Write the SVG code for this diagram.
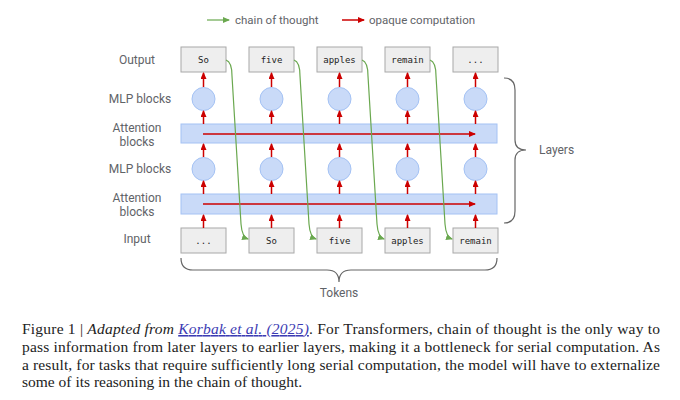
<svg xmlns="http://www.w3.org/2000/svg" width="680" height="400" viewBox="0 0 680 400">
<style>
.lbl{font-family:Roboto,"Liberation Sans",sans-serif;font-size:12px;fill:#5f6368}
.leg{font-family:Roboto,"Liberation Sans",sans-serif;font-size:11.5px;fill:#5f6368}
.tok{font-family:"DejaVu Sans Mono","Liberation Mono",monospace;font-size:9px;fill:#222;text-anchor:middle}
.box{fill:#eeeeee;stroke:#a8a8a8;stroke-width:1}
.mlp{fill:#c9daf8;stroke:#a4c2f4;stroke-width:1}
.bar{fill:#c9daf8;stroke:#a4c2f4;stroke-width:1}
.red{stroke:#cc0000;stroke-width:1.5;fill:none;marker-end:url(#rh)}
.grn{stroke:#6aa84f;stroke-width:1.2;fill:none;marker-end:url(#gh)}
.brace{stroke:#666;stroke-width:1.2;fill:none}
.cap{font-family:"Liberation Serif",serif;font-size:15.5px;fill:#222}
</style>
<defs>
<marker id="rh" markerWidth="8" markerHeight="8" refX="6" refY="3" orient="auto" markerUnits="userSpaceOnUse"><path d="M0,0 L7,3 L0,6 Z" fill="#cc0000"/></marker>
<marker id="gh" markerWidth="8" markerHeight="8" refX="6" refY="3" orient="auto" markerUnits="userSpaceOnUse"><path d="M0,0 L7,3 L0,6 Z" fill="#6aa84f"/></marker>
</defs>
<rect width="680" height="400" fill="#ffffff"/>

<g id="legend">
<line x1="207" y1="20" x2="229" y2="20" class="grn"/>
<text x="235" y="24" class="leg">chain of thought</text>
<line x1="342" y1="20" x2="364" y2="20" class="red"/>
<text x="369" y="24" class="leg">opaque computation</text>
</g>

<g id="row-labels" class="lbl" text-anchor="middle">
<text x="137" y="64">Output</text>
<text x="140" y="103">MLP blocks</text>
<text x="137" y="132">Attention</text>
<text x="137" y="146">blocks</text>
<text x="140" y="173">MLP blocks</text>
<text x="137" y="202">Attention</text>
<text x="137" y="216">blocks</text>
<text x="137" y="243">Input</text>
</g>

<g id="attention1"><rect class="bar" x="181" y="124" width="316" height="19"/></g>
<g id="attention2"><rect class="bar" x="181" y="194" width="316" height="20"/></g>

<g id="output-tokens">
<rect class="box" x="181" y="47" width="45" height="25"/><text class="tok" x="203.5" y="63">So</text>
<rect class="box" x="249" y="47" width="45" height="25"/><text class="tok" x="271.5" y="63">five</text>
<rect class="box" x="317" y="47" width="45" height="25"/><text class="tok" x="339.5" y="63">apples</text>
<rect class="box" x="385" y="47" width="45" height="25"/><text class="tok" x="407.5" y="63">remain</text>
<rect class="box" x="453" y="47" width="45" height="25"/><text class="tok" x="475.5" y="63">...</text>
</g>

<g id="input-tokens">
<rect class="box" x="181" y="228" width="45" height="25"/><text class="tok" x="203.5" y="244">...</text>
<rect class="box" x="249" y="228" width="45" height="25"/><text class="tok" x="271.5" y="244">So</text>
<rect class="box" x="317" y="228" width="45" height="25"/><text class="tok" x="339.5" y="244">five</text>
<rect class="box" x="385" y="228" width="45" height="25"/><text class="tok" x="407.5" y="244">apples</text>
<rect class="box" x="453" y="228" width="45" height="25"/><text class="tok" x="475.5" y="244">remain</text>
</g>

<g id="mlp1">
<circle class="mlp" cx="203.5" cy="99" r="11.5"/><circle class="mlp" cx="271.5" cy="99" r="11.5"/><circle class="mlp" cx="339.5" cy="99" r="11.5"/><circle class="mlp" cx="407.5" cy="99" r="11.5"/><circle class="mlp" cx="475.5" cy="99" r="11.5"/>
</g>
<g id="mlp2">
<circle class="mlp" cx="203.5" cy="169" r="11.5"/><circle class="mlp" cx="271.5" cy="169" r="11.5"/><circle class="mlp" cx="339.5" cy="169" r="11.5"/><circle class="mlp" cx="407.5" cy="169" r="11.5"/><circle class="mlp" cx="475.5" cy="169" r="11.5"/>
</g>

<g id="connectors">
<g id="vertical-arrows">
<path class="red" d="M203.5,228V215"/><path class="red" d="M203.5,194V181"/><path class="red" d="M203.5,157V144"/><path class="red" d="M203.5,124V111"/><path class="red" d="M203.5,87V73"/>
<path class="red" d="M271.5,228V215"/><path class="red" d="M271.5,194V181"/><path class="red" d="M271.5,157V144"/><path class="red" d="M271.5,124V111"/><path class="red" d="M271.5,87V73"/>
<path class="red" d="M339.5,228V215"/><path class="red" d="M339.5,194V181"/><path class="red" d="M339.5,157V144"/><path class="red" d="M339.5,124V111"/><path class="red" d="M339.5,87V73"/>
<path class="red" d="M407.5,228V215"/><path class="red" d="M407.5,194V181"/><path class="red" d="M407.5,157V144"/><path class="red" d="M407.5,124V111"/><path class="red" d="M407.5,87V73"/>
<path class="red" d="M475.5,228V215"/><path class="red" d="M475.5,194V181"/><path class="red" d="M475.5,157V144"/><path class="red" d="M475.5,124V111"/><path class="red" d="M475.5,87V73"/>
</g>
<line class="red" x1="203" y1="134" x2="475" y2="134"/>
<line class="red" x1="203" y1="204" x2="475" y2="204"/>
<path class="grn" d="M226,60 Q232,62 232,76 L241,224 Q242,237 248,239"/>
<path class="grn" d="M294,60 Q300,62 300,76 L309,224 Q310,237 316,239"/>
<path class="grn" d="M362,60 Q368,62 368,76 L377,224 Q378,237 384,239"/>
<path class="grn" d="M430,60 Q436,62 436,76 L445,224 Q446,237 452,239"/>
</g>

<g id="layers-brace">
<path class="brace" d="M504,78 Q515,78 515,90 L515,140 Q515,150 526,150 Q515,150 515,160 L515,211 Q515,223 504,223"/>
<text class="lbl" x="539" y="154">Layers</text>
</g>
<g id="tokens-brace">
<path class="brace" d="M181,258 Q181,270 193,270 L327,270 Q339,270 339,282 Q339,270 351,270 L485,270 Q497,270 497,258"/>
<text class="lbl" x="339" y="297" text-anchor="middle">Tokens</text>
</g>

<g id="caption" class="cap">
<text x="22" y="334" textLength="638" lengthAdjust="spacing">Figure 1 | <tspan font-style="italic">Adapted from </tspan><tspan font-style="italic" fill="#3b3bb3" text-decoration="underline">Korbak et al. (2025)</tspan>. For Transformers, chain of thought is the only way to</text>
<text x="22" y="352" textLength="638" lengthAdjust="spacing">pass information from later layers to earlier layers, making it a bottleneck for serial computation. As</text>
<text x="22" y="369.5" textLength="638" lengthAdjust="spacing">a result, for tasks that require sufficiently long serial computation, the model will have to externalize</text>
<text x="22" y="387">some of its reasoning in the chain of thought.</text>
</g>
</svg>
